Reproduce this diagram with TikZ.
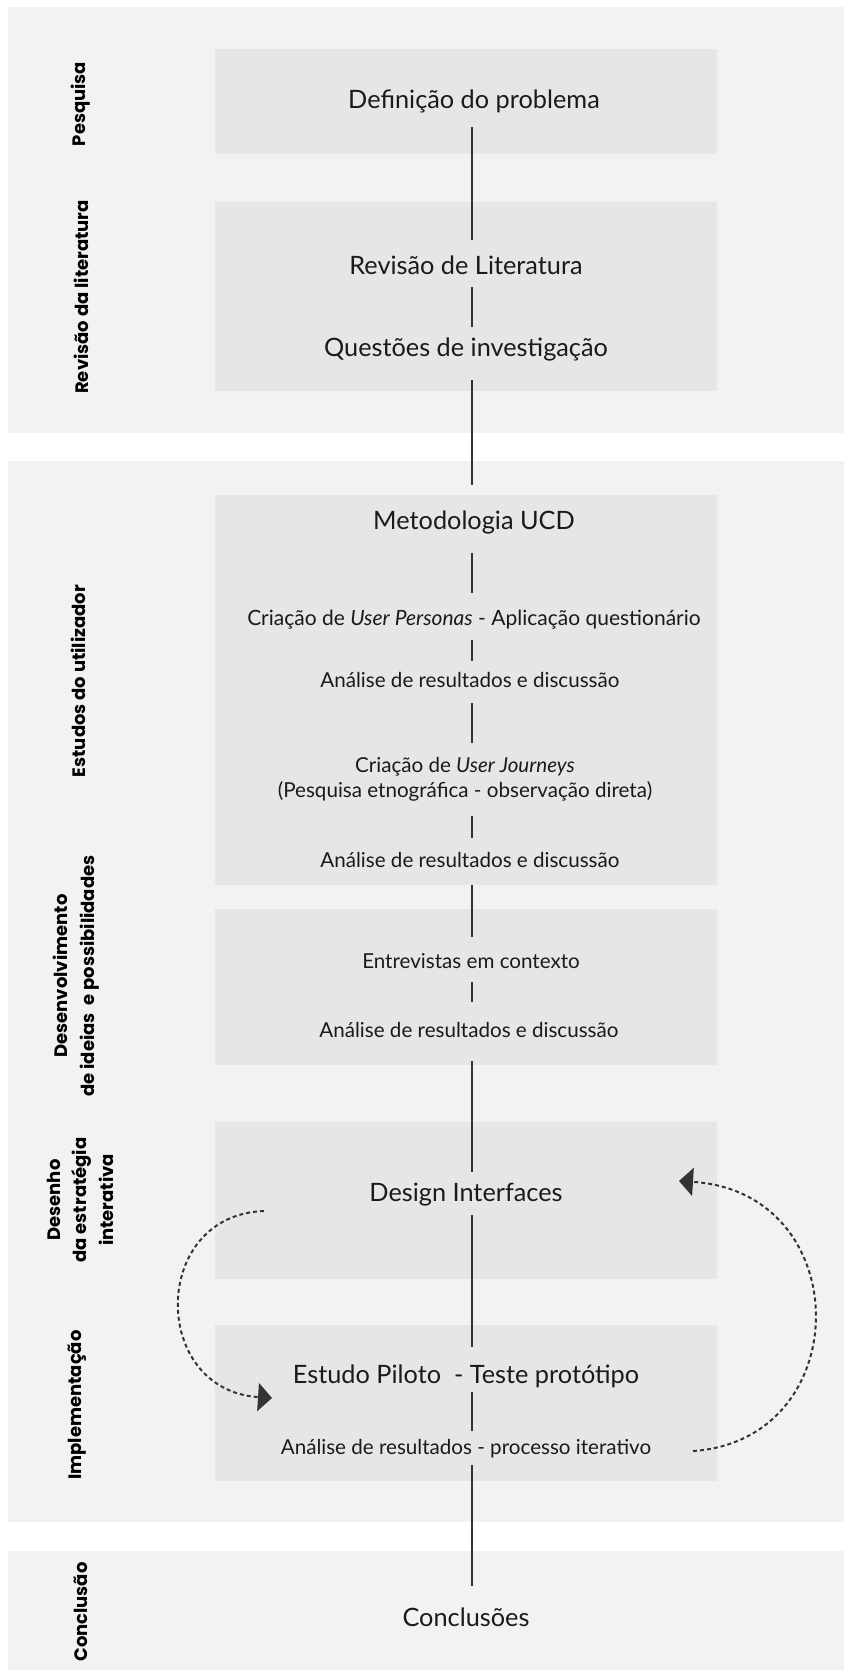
\documentclass[tikz,border=0pt]{standalone}
\usepackage{fontspec}
\setmainfont{Lato}
\newfontfamily\phasefont{Poppins}
\usepackage{xcolor}
\usetikzlibrary{arrows.meta, positioning}

\definecolor{panelgray}{HTML}{F2F2F2}
\definecolor{boxgray}{HTML}{E6E6E6}
\definecolor{linegray}{HTML}{333333}
\definecolor{textgray}{HTML}{1A1A1A}

\tikzset{
  panel/.style={fill=panelgray, draw=none},
  stagebox/.style={fill=boxgray, draw=none},
  bigtext/.style={font=\fontsize{25.3}{30}\selectfont, text=textgray, inner sep=0pt},
  midtext/.style={font=\fontsize{20.6}{25}\selectfont, text=textgray, inner sep=0pt, align=center},
  phase/.style={font=\phasefont\bfseries\fontsize{18}{26.5}\selectfont, rotate=90, align=center, inner sep=0pt},
  link/.style={draw=linegray, line width=2pt},
  iterarrow/.style={draw=linegray, line width=2pt, dash pattern=on 4pt off 3pt, -{Triangle[length=14pt, width=28pt]}}
}

\begin{document}
\begin{tikzpicture}[x=1pt, y=-1pt]
    \useasboundingbox (0,0) rectangle (844,1670);
    \fill[white] (0,0) rectangle (844,1670);

    % Background panels
    \fill[panel] (8,7) rectangle (844,433);
    \fill[panel] (8,461) rectangle (844,1522);
    \fill[panel] (8,1551) rectangle (844,1670);

    % Stage boxes
    \fill[stagebox] (215,49) rectangle (717,154);
    \fill[stagebox] (215,202) rectangle (717,391);
    \fill[stagebox] (215,495) rectangle (717,885);
    \fill[stagebox] (215,909) rectangle (717,1065);
    \fill[stagebox] (215,1122) rectangle (717,1279);
    \fill[stagebox] (215,1325) rectangle (717,1481);

    % Phase labels
    \node[phase] (pesquisa) at (81,104) {Pesquisa};
    \node[phase] (literatura) at (81,297) {Revisão da literatura};
    \node[phase] (utilizador) at (78,681) {Estudos do utilizador};
    \node[phase] (ideias) at (76,976) {Desenvolvimento\\de ideias~ e possibilidades};
    \node[phase] (estrategia) at (80,1200) {Desenho\\da estratégia\\interativa};
    \node[phase] (implementacao) at (77,1405) {Implementação};
    \node[phase] (conclusao) at (81,1612) {Conclusão};

    % Stage texts
    \node[bigtext] (problema) at (474,101) {Definição do problema};
    \node[bigtext] (revisao) at (466,265) {Revisão de Literatura};
    \node[bigtext] (questoes) at (466,349) {Questões de investigação};
    \node[bigtext] (ucd) at (474,522) {Metodologia UCD};
    \node[midtext, font=\fontsize{21}{25}\selectfont] (personas) at (474,620) {Criação de \textit{User Personas} - Aplicação questionário};
    \node[midtext] (analiseA) at (470,680) {Análise de resultados e discussão};
    \node[midtext] (journeys) at (465,779) {Criação de \textit{User Journeys}\\(Pesquisa etnográfica - observação direta)};
    \node[midtext] (analiseB) at (470,860) {Análise de resultados e discussão};
    \node[midtext] (entrevistas) at (471,961) {Entrevistas em contexto};
    \node[midtext] (analiseC) at (469,1030) {Análise de resultados e discussão};
    \node[bigtext] (design) at (466,1195) {Design Interfaces};
    \node[bigtext] (piloto) at (466,1376) {Estudo Piloto~ - Teste protótipo};
    \node[midtext] (analiseD) at (466,1449) {Análise de resultados - processo iterativo};
    \node[bigtext] (conclusoes) at (466,1617) {Conclusões};

    % Draw connections
    \coordinate (spine) at (472,0);
    \draw[link, shorten <=26pt, shorten >=25pt] (spine |- problema) -- (spine |- revisao);
    \draw[link, shorten <=22pt, shorten >=22pt] (spine |- revisao) -- (spine |- questoes);
    \draw[link, shorten <=31pt, shorten >=37pt] (spine |- questoes) -- (spine |- ucd);
    \draw[link, shorten <=31pt, shorten >=27pt] (spine |- ucd) -- (spine |- personas);
    \draw[link, shorten <=20pt, shorten >=19pt] (spine |- personas) -- (spine |- analiseA);
    \draw[link, shorten <=23pt, shorten >=36pt] (spine |- analiseA) -- (spine |- journeys);
    \draw[link, shorten <=37pt, shorten >=22pt] (spine |- journeys) -- (spine |- analiseB);
    \draw[link, shorten <=25pt, shorten >=24pt] (spine |- analiseB) -- (spine |- entrevistas);
    \draw[link, shorten <=21pt, shorten >=28pt] (spine |- entrevistas) -- (spine |- analiseC);
    \draw[link, shorten <=31pt, shorten >=23pt] (spine |- analiseC) -- (spine |- design);
    \draw[link, shorten <=20pt, shorten >=29pt] (spine |- design) -- (spine |- piloto);
    \draw[link, shorten <=16pt, shorten >=18pt] (spine |- piloto) -- (spine |- analiseD);
    \draw[link, shorten <=16pt, shorten >=31pt] (spine |- analiseD) -- (spine |- conclusoes);

    % Iteration loop
    \coordinate (designout) at (264,1211);
    \coordinate (pilotoin) at (272,1398);
    \coordinate (analiseout) at (693,1451);
    \coordinate (designin) at (679,1181);
    \draw[iterarrow] (designout) .. controls (150,1215) and (150,1390) .. (pilotoin);
    \draw[iterarrow] (analiseout) .. controls (857,1440) and (857,1192) .. (designin);
\end{tikzpicture}
\end{document}
